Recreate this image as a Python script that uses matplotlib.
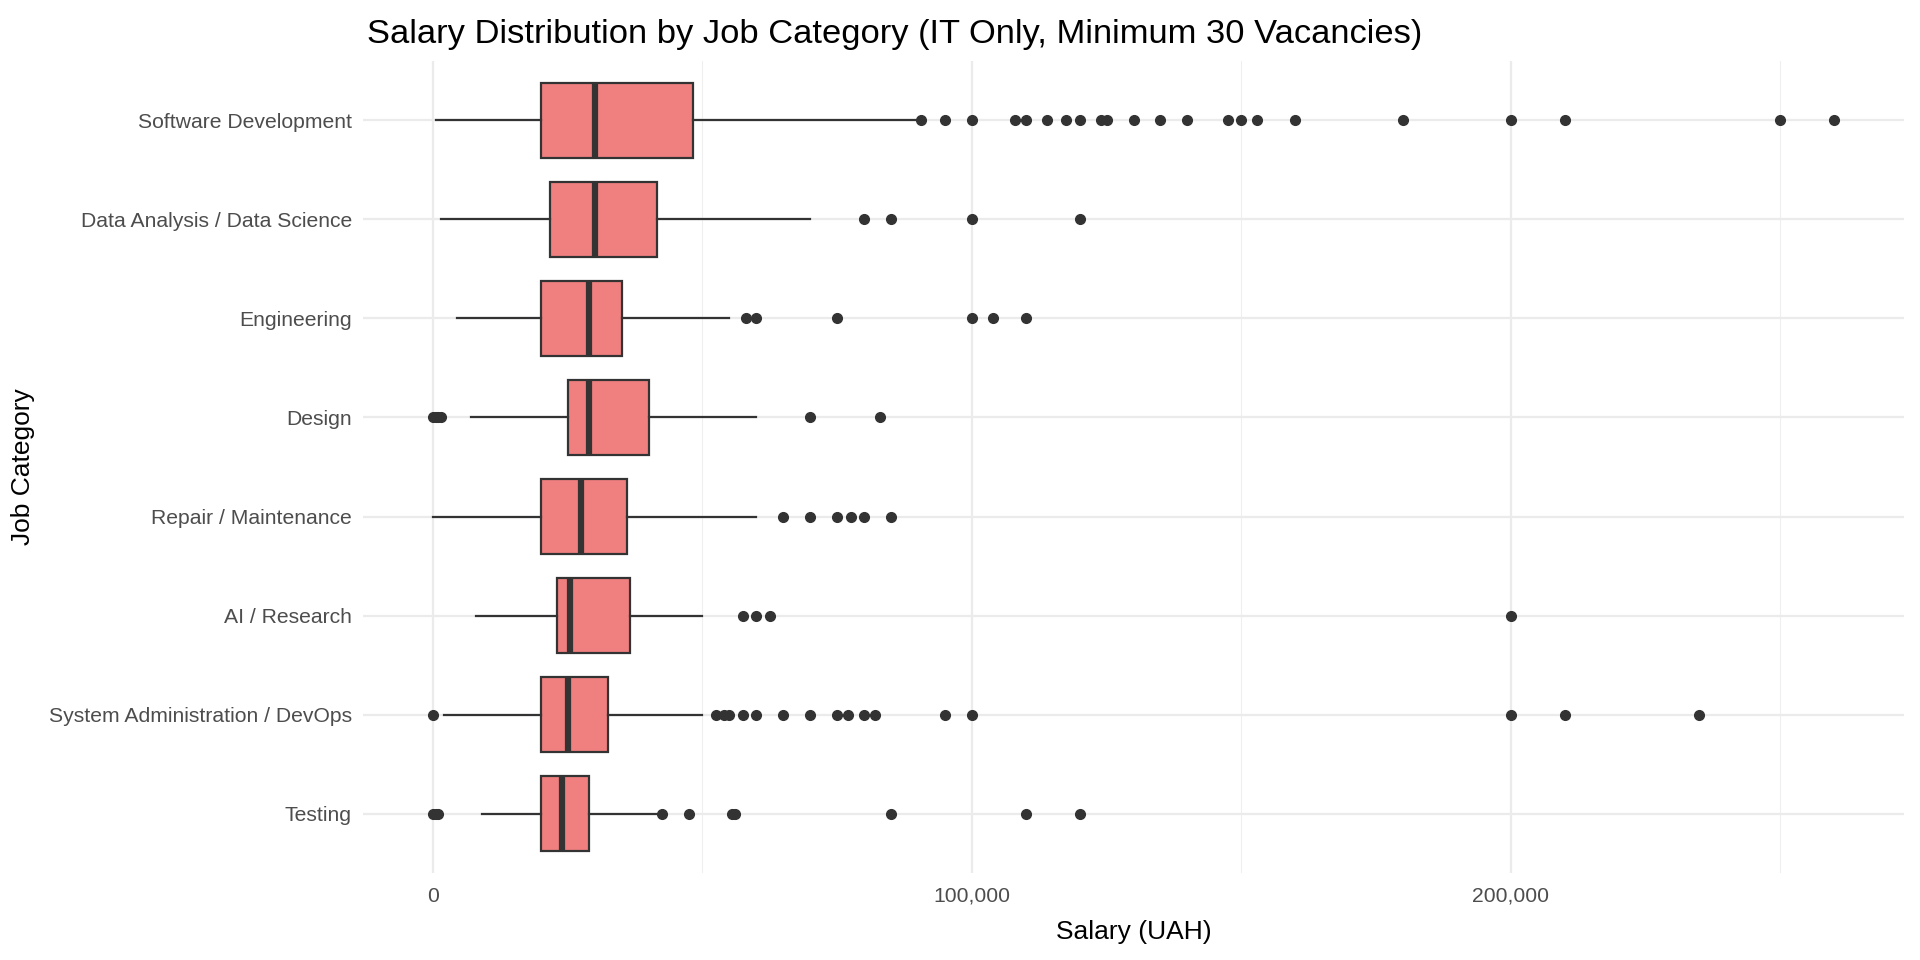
import matplotlib
matplotlib.use("Agg")
import matplotlib.pyplot as plt
from matplotlib.ticker import FuncFormatter, MultipleLocator

plt.rcParams['font.family'] = ['Liberation Sans', 'DejaVu Sans']

categories = ["Software Development", "Data Analysis / Data Science", "Engineering",
              "Design", "Repair / Maintenance", "AI / Research",
              "System Administration / DevOps", "Testing"]

q1 = [20000, 21700, 20000, 25000, 20000, 23000, 20000, 20000]
med = [30000, 30000, 29000, 29000, 27500, 25500, 25000, 24000]
q3 = [48300, 41600, 35000, 40000, 36000, 36500, 32500, 29000]
whislo = [500, 1500, 4500, 7000, 0, 8000, 2000, 9000]
whishi = [90000, 70000, 55000, 60000, 60000, 50000, 50000, 41500]
fliers = [
    [90500, 95000, 100000, 108000, 110000, 114000, 117500, 120000, 124000, 125000,
     130000, 135000, 140000, 147500, 150000, 153000, 160000, 180000, 200000, 210000,
     250000, 260000],
    [80000, 85000, 100000, 120000],
    [58000, 60000, 75000, 100000, 104000, 110000],
    [0, 500, 1000, 1500, 70000, 83000],
    [65000, 70000, 75000, 77500, 80000, 85000],
    [57500, 60000, 62500, 200000],
    [0, 52500, 54000, 55000, 57500, 60000, 65000, 70000, 75000, 77000, 80000, 82000,
     95000, 100000, 200000, 210000, 235000],
    [0, 500, 1000, 42500, 47500, 55500, 56000, 85000, 110000, 120000],
]

stats = []
for i, c in enumerate(categories):
    stats.append(dict(label=c, q1=q1[i], med=med[i], q3=q3[i],
                      whislo=whislo[i], whishi=whishi[i], fliers=fliers[i]))

fig = plt.figure(figsize=(19.2, 9.6), dpi=100)
left, right, top, bottom = 363, 1904, 61, 873
ax = fig.add_axes([left/1920, 1 - bottom/960, (right-left)/1920, (bottom-top)/960])

n = len(categories)
positions = [n - i for i in range(n)]
edge = "#333333"
ax.bxp(stats, positions=positions, vert=False, widths=0.75, patch_artist=True,
       showcaps=False,
       boxprops=dict(facecolor="#F08080", edgecolor=edge, linewidth=1.6),
       medianprops=dict(color=edge, linewidth=4.5, solid_capstyle='butt'),
       whiskerprops=dict(color=edge, linewidth=1.6),
       flierprops=dict(marker='o', markerfacecolor=edge, markeredgecolor=edge,
                       markersize=7, linestyle='none'),
       zorder=3)

ax.set_xlim(-13000, 273000)
ax.set_ylim(0.4, n + 0.6)
ax.xaxis.set_major_locator(MultipleLocator(100000))
ax.xaxis.set_minor_locator(MultipleLocator(50000))
ax.xaxis.set_major_formatter(FuncFormatter(lambda v, p: f"{int(v):,}"))
ax.set_yticks(positions)
ax.set_yticklabels(categories)

ax.grid(True, which='major', axis='both', color="#EBEBEB", linewidth=1.6, zorder=0)
ax.grid(True, which='minor', axis='x', color="#EFEFEF", linewidth=0.8, zorder=0)
ax.set_axisbelow(True)
for s in ax.spines.values():
    s.set_visible(False)
ax.tick_params(axis='both', which='both', length=0, labelsize=15.2, labelcolor="#4D4D4D")
ax.tick_params(axis='x', pad=10)
ax.tick_params(axis='y', pad=8)

ax.set_xlabel("Salary (UAH)", fontsize=19, color="black", labelpad=10)
ax.set_ylabel("Job Category", fontsize=19, color="black", labelpad=10)
fig.text(367/1920, 1 - 35/960, "Salary Distribution by Job Category (IT Only, Minimum 30 Vacancies)",
         fontsize=24.8, color="black", ha='left', va='center')

fig.savefig("out.png", dpi=100)
